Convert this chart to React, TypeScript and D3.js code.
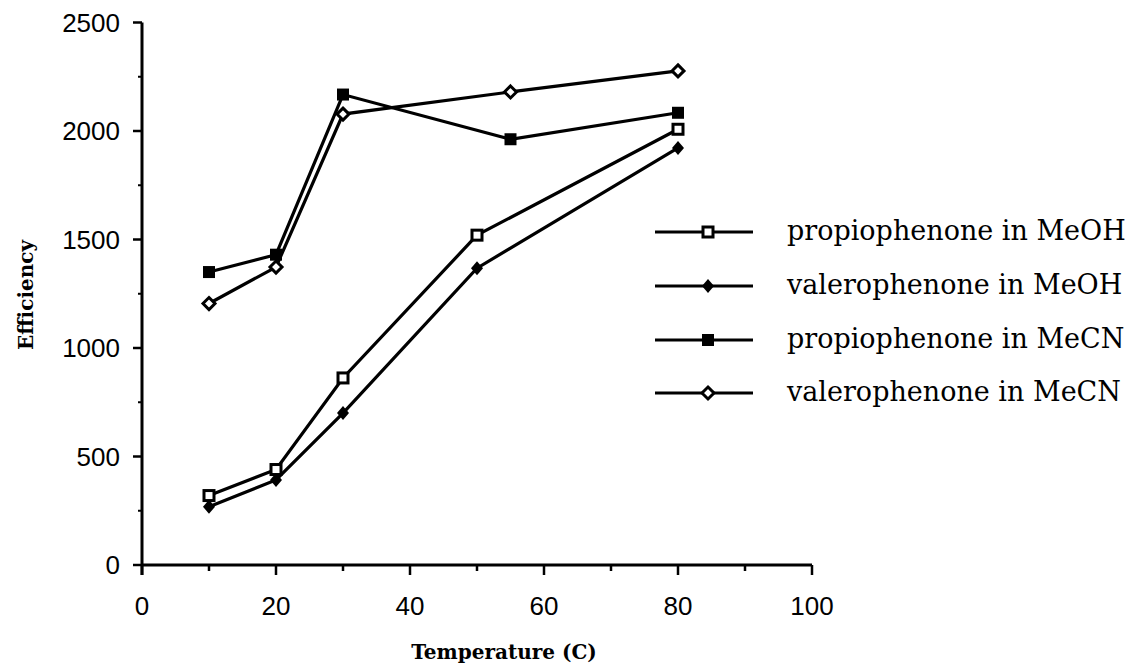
import React from "react";
import * as d3 from "d3";

const temps1 = [10, 20, 30, 50, 80];
const temps2 = [10, 20, 30, 55, 80];
const propioMeOH = [320, 440, 862, 1520, 2008];
const valeroMeOH = [268, 392, 700, 1368, 1922];
const propioMeCN = [1350, 1430, 2168, 1962, 2084];
const valeroMeCN = [1205, 1373, 2078, 2180, 2277];
const seriesNames = [
  "propiophenone in MeOH",
  "valerophenone in MeOH",
  "propiophenone in MeCN",
  "valerophenone in MeCN",
];
const markerKinds = ["openSquare", "filledDiamond", "filledSquare", "openDiamond"];
const xTicks = [0, 20, 40, 60, 80, 100];
const xMinor = [10, 30, 50, 70, 90];
const yTicks = [0, 500, 1000, 1500, 2000, 2500];
const yMinor = [250, 750, 1250, 1750, 2250];

const W = 1131;
const H = 666;

function Marker({ kind, x, y }: { kind: string; x: number; y: number }) {
  if (kind === "openSquare")
    return <rect x={x - 5} y={y - 5} width={10} height={10} fill="#fff" stroke="#000" strokeWidth={3} />;
  if (kind === "filledSquare")
    return <rect x={x - 6} y={y - 6} width={12} height={12} fill="#000" />;
  if (kind === "filledDiamond")
    return <path d={`M${x},${y - 7}L${x + 6},${y}L${x},${y + 7}L${x - 6},${y}Z`} fill="#000" />;
  return (
    <path
      d={`M${x},${y - 6}L${x + 6},${y}L${x},${y + 6}L${x - 6},${y}Z`}
      fill="#fff"
      stroke="#000"
      strokeWidth={3}
    />
  );
}

export default function App() {
  const x = d3.scaleLinear().domain([0, 100]).range([142, 812]);
  const y = d3.scaleLinear().domain([0, 2500]).range([565, 22.5]);
  const line = d3
    .line<[number, number]>()
    .x((d) => x(d[0]))
    .y((d) => y(d[1]));

  const series = [
    { xs: temps1, ys: propioMeOH },
    { xs: temps1, ys: valeroMeOH },
    { xs: temps2, ys: propioMeCN },
    { xs: temps2, ys: valeroMeCN },
  ].map((s, i) => ({
    name: seriesNames[i],
    kind: markerKinds[i],
    pts: s.xs.map((t, j) => [t, s.ys[j]] as [number, number]),
  }));

  const tickFont = "'Liberation Sans', Arial, sans-serif";
  const serif = "'DejaVu Serif', serif";

  const legendY = [232, 286, 340, 393];

  return (
    <svg width={W} height={H} style={{ position: "absolute", left: 0, top: 0, background: "#fff" }}>
      <rect width={W} height={H} fill="#fff" />
      {/* axes */}
      <line x1={x(0)} x2={x(0)} y1={y(2500)} y2={y(0) + 10} stroke="#000" strokeWidth={3} />
      <line x1={x(0)} x2={x(100)} y1={y(0)} y2={y(0)} stroke="#000" strokeWidth={3} />
      {yTicks.map((t) => (
        <g key={"y" + t}>
          <line x1={x(0) - 9} x2={x(0)} y1={y(t)} y2={y(t)} stroke="#000" strokeWidth={2.5} />
          <text
            x={x(0) - 22}
            y={y(t) + 9}
            textAnchor="end"
            fontFamily={tickFont}
            fontSize={26}
          >
            {t}
          </text>
        </g>
      ))}
      {yMinor.map((t) => (
        <line key={"ym" + t} x1={x(0) - 4} x2={x(0)} y1={y(t)} y2={y(t)} stroke="#000" strokeWidth={2} />
      ))}
      {xTicks.map((t) => (
        <g key={"x" + t}>
          <line x1={x(t)} x2={x(t)} y1={y(0)} y2={y(0) + 10} stroke="#000" strokeWidth={2.5} />
          <text x={x(t)} y={615} textAnchor="middle" fontFamily={tickFont} fontSize={26}>
            {t}
          </text>
        </g>
      ))}
      {xMinor.map((t) => (
        <line key={"xm" + t} x1={x(t)} x2={x(t)} y1={y(0)} y2={y(0) + 6} stroke="#000" strokeWidth={2.5} />
      ))}
      {/* axis titles */}
      <text
        x={504}
        y={659}
        textAnchor="middle"
        fontFamily={serif}
        fontWeight="bold"
        fontSize={20}
      >
        Temperature (C)
      </text>
      <text
        transform={`translate(33,295) rotate(-90)`}
        textAnchor="middle"
        fontFamily={serif}
        fontWeight="bold"
        fontSize={20}
      >
        Efficiency
      </text>
      {/* series */}
      {series.map((s) => (
        <g key={s.name}>
          <path d={line(s.pts) || ""} fill="none" stroke="#000" strokeWidth={3.2} />
          {s.pts.map((p, j) => (
            <Marker key={j} kind={s.kind} x={x(p[0])} y={y(p[1])} />
          ))}
        </g>
      ))}
      {/* legend */}
      {series.map((s, i) => (
        <g key={"lg" + i}>
          <line x1={655} x2={753} y1={legendY[i]} y2={legendY[i]} stroke="#000" strokeWidth={3.2} />
          <Marker kind={s.kind} x={708} y={legendY[i]} />
          <text x={787} y={legendY[i] + 8} fontFamily={serif} fontSize={27}>
            {s.name}
          </text>
        </g>
      ))}
    </svg>
  );
}
